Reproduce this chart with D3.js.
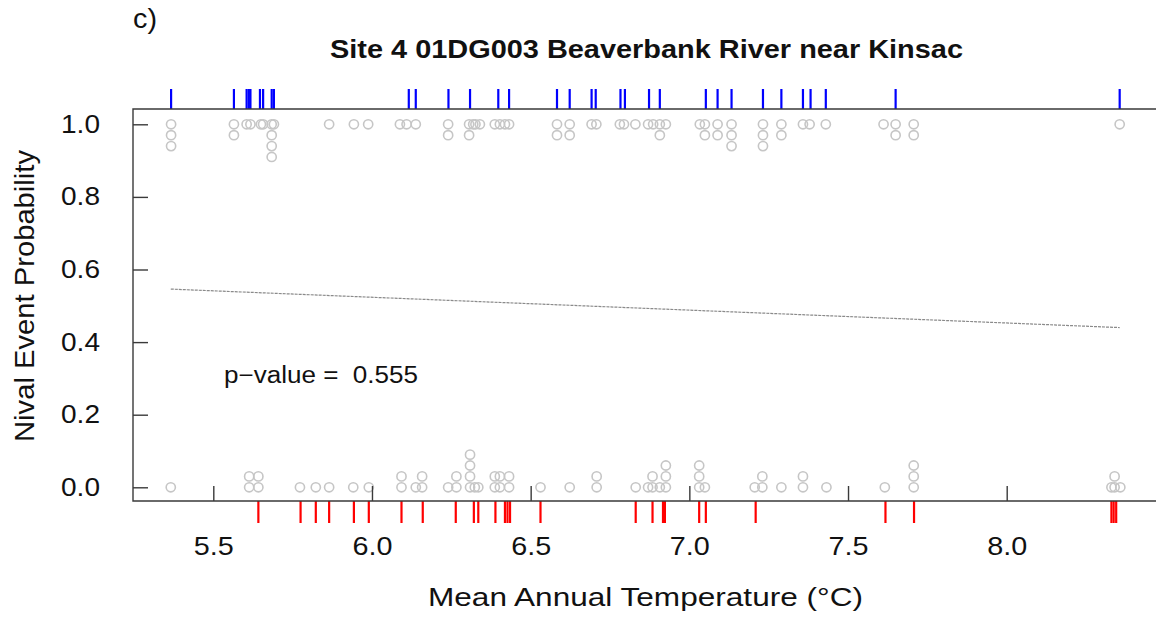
<!DOCTYPE html>
<html>
<head>
<meta charset="utf-8">
<script src="https://cdn.jsdelivr.net/npm/d3@7"></script>
<style>
  html, body { margin: 0; padding: 0; background: #fff; }
  svg { display: block; font-family: "Liberation Sans", Arial, sans-serif; }
</style>
</head>
<body>
<svg id="chart" width="1156" height="619"></svg>
<script>
// ---- data ----
const panelLabel = "c)";
const titleText = "Site 4 01DG003 Beaverbank River near Kinsac";
const xLabel = "Mean Annual Temperature (\u00B0C)";
const yLabel = "Nival Event Probability";
const pText = "p\u2212value =  0.555";

const xTicks = [5.5, 6.0, 6.5, 7.0, 7.5, 8.0];
const yTicks = [0.0, 0.2, 0.4, 0.6, 0.8, 1.0];

// observed points (temperature, stacked probability position)
const pointTemp = [
  // nival events (stacked downward from 1)
  5.367,5.367,5.367, 5.565,5.565, 5.605, 5.617, 5.650, 5.657,
  5.684,5.684,5.684,5.684, 5.691, 5.865, 5.943, 5.988, 6.088, 6.109, 6.138,
  6.240,6.240, 6.306,6.306, 6.319, 6.326, 6.340, 6.387, 6.403, 6.419, 6.432,
  6.583,6.583, 6.623,6.623, 6.692, 6.707, 6.781, 6.794, 6.830, 6.870, 6.886,
  6.907,6.907, 6.926, 7.033, 7.049,7.049, 7.089,7.089, 7.133,7.133,7.133,
  7.232,7.232,7.232, 7.290,7.290, 7.358, 7.379, 7.430, 7.612, 7.650,7.650,
  7.707,7.707, 8.356,
  // non-nival events (stacked upward from 0)
  5.366, 5.613,5.613, 5.642,5.642, 5.773, 5.823, 5.865, 5.941, 5.990,
  6.093,6.093, 6.138, 6.158,6.158, 6.240, 6.266,6.266, 6.309,6.309,6.309,6.309,
  6.324, 6.335, 6.387,6.387, 6.403,6.403, 6.432,6.432, 6.531, 6.623, 6.708,6.708,
  6.831, 6.870, 6.884,6.884, 6.907, 6.926,6.926,6.926, 7.031,7.031,7.031, 7.049,
  7.206, 7.230,7.230, 7.290, 7.358,7.358, 7.432, 7.616, 7.707,7.707,7.707,
  8.330, 8.340,8.340, 8.358
];
const pointProb = [
  1,0.97,0.94, 1,0.97, 1, 1, 1, 1,
  1,0.97,0.94,0.91, 1, 1, 1, 1, 1, 1, 1,
  1,0.97, 1,0.97, 1, 1, 1, 1, 1, 1, 1,
  1,0.97, 1,0.97, 1, 1, 1, 1, 1, 1, 1,
  1,0.97, 1, 1, 1,0.97, 1,0.97, 1,0.97,0.94,
  1,0.97,0.94, 1,0.97, 1, 1, 1, 1, 1,0.97,
  1,0.97, 1,
  0, 0,0.03, 0,0.03, 0, 0, 0, 0, 0,
  0,0.03, 0, 0,0.03, 0, 0,0.03, 0,0.03,0.06,0.09,
  0, 0, 0,0.03, 0,0.03, 0,0.03, 0, 0, 0,0.03,
  0, 0, 0,0.03, 0, 0,0.03,0.06, 0,0.03,0.06, 0,
  0, 0,0.03, 0, 0,0.03, 0, 0, 0,0.03,0.06,
  0, 0,0.03, 0
];

// rug marks
const rugNival = [5.367,5.565,5.605,5.612,5.617,5.647,5.657,5.684,5.691,6.116,6.138,
  6.241,6.309,6.398,6.432,6.583,6.623,6.692,6.705,6.783,6.797,6.873,6.907,7.052,
  7.089,7.133,7.232,7.290,7.358,7.382,7.430,7.650,8.356];
const rugOther = [5.642,5.775,5.823,5.865,5.943,5.990,6.093,6.160,6.264,6.321,6.335,
  6.389,6.419,6.427,6.435,6.531,6.831,6.884,6.917,6.923,7.031,7.052,7.209,7.618,
  7.708,8.330,8.337,8.345];

// fitted model line
const fitTemp = [5.366, 8.356];
const fitProb = [0.546, 0.440];

// ---- layout ----
const svg = d3.select("#chart");
const frame = { left: 133, right: 1160, top: 109, bottom: 501 };
const x = d3.scaleLinear().domain([5.5, 8.0]).range([213.3, 1006.7]);
const y = d3.scaleLinear().domain([0, 1]).range([487.3, 124.3]);
const axisColor = "#3a3a3a";

// points
svg.append("g").selectAll("circle")
  .data(pointTemp.map((t, i) => [t, pointProb[i]]))
  .join("circle")
  .attr("cx", d => x(d[0]))
  .attr("cy", d => y(d[1]))
  .attr("r", 4.6)
  .attr("fill", "none")
  .attr("stroke", "#c6c6c6")
  .attr("stroke-width", 1.6);

// fitted line
svg.append("path")
  .datum(fitTemp.map((t, i) => [t, fitProb[i]]))
  .attr("d", d3.line().x(d => x(d[0])).y(d => y(d[1])))
  .attr("fill", "none")
  .attr("stroke", "#8a8a8a")
  .attr("stroke-width", 1.2)
  .attr("stroke-dasharray", "3,1");

// rugs
svg.append("g").selectAll("line")
  .data(rugNival).join("line")
  .attr("x1", d => x(d)).attr("x2", d => x(d))
  .attr("y1", frame.top - 20).attr("y2", frame.top)
  .attr("stroke", "#0000ff").attr("stroke-width", 2.2);
svg.append("g").selectAll("line")
  .data(rugOther).join("line")
  .attr("x1", d => x(d)).attr("x2", d => x(d))
  .attr("y1", frame.bottom).attr("y2", frame.bottom + 22)
  .attr("stroke", "#ff0000").attr("stroke-width", 2.2);

// frame (left, top, bottom)
svg.append("path")
  .attr("d", `M${frame.right},${frame.top}H${frame.left}V${frame.bottom}H${frame.right}`)
  .attr("fill", "none").attr("stroke", axisColor).attr("stroke-width", 1.4);

// y axis
const gy = svg.append("g")
  .attr("transform", `translate(${frame.left},0)`)
  .call(d3.axisLeft(y).tickValues(yTicks).tickFormat(d3.format(".1f"))
    .tickSize(-15).tickSizeOuter(0).tickPadding(33));
gy.select(".domain").remove();
gy.selectAll(".tick line").attr("stroke", axisColor).attr("stroke-width", 1.4);
gy.selectAll(".tick text")
  .attr("font-size", 25).attr("fill", "#111")
  .attr("font-family", "Liberation Sans, Arial, sans-serif")
  .attr("textLength", 39).attr("lengthAdjust", "spacingAndGlyphs");

// x axis
const gx = svg.append("g")
  .attr("transform", `translate(0,${frame.bottom})`)
  .call(d3.axisBottom(x).tickValues(xTicks).tickFormat(d3.format(".1f"))
    .tickSize(-15).tickSizeOuter(0));
gx.select(".domain").remove();
gx.selectAll(".tick line").attr("stroke", axisColor).attr("stroke-width", 1.4);
gx.selectAll(".tick text")
  .attr("y", 54).attr("dy", 0)
  .attr("font-size", 26).attr("fill", "#111")
  .attr("font-family", "Liberation Sans, Arial, sans-serif")
  .attr("textLength", 40).attr("lengthAdjust", "spacingAndGlyphs");

// texts
svg.append("text").text(panelLabel)
  .attr("x", 133).attr("y", 28).attr("font-size", 28).attr("fill", "#111")
  .attr("textLength", 24).attr("lengthAdjust", "spacingAndGlyphs");

svg.append("text").text(titleText)
  .attr("x", 646.5).attr("y", 58).attr("text-anchor", "middle")
  .attr("font-size", 25).attr("font-weight", "bold").attr("fill", "#111")
  .attr("textLength", 633).attr("lengthAdjust", "spacingAndGlyphs");

svg.append("text").text(xLabel)
  .attr("x", 645.5).attr("y", 606).attr("text-anchor", "middle")
  .attr("font-size", 26).attr("fill", "#111")
  .attr("textLength", 435).attr("lengthAdjust", "spacingAndGlyphs");

svg.append("text").text(yLabel)
  .attr("transform", "translate(34,296) rotate(-90)")
  .attr("text-anchor", "middle")
  .attr("font-size", 28).attr("fill", "#111")
  .attr("textLength", 292).attr("lengthAdjust", "spacingAndGlyphs");

svg.append("text").text(pText)
  .attr("x", 224).attr("y", 383).attr("xml:space", "preserve")
  .style("white-space", "pre")
  .attr("font-size", 23).attr("fill", "#111")
  .attr("textLength", 194).attr("lengthAdjust", "spacingAndGlyphs");
</script>
</body>
</html>
